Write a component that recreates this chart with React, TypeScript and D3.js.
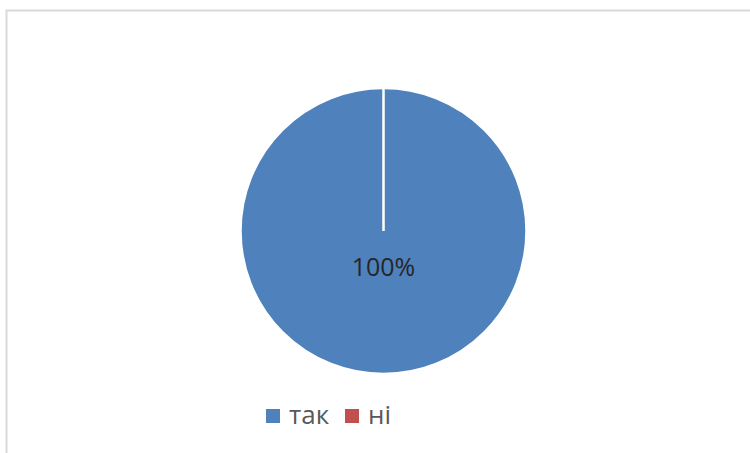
import React, { useRef, useEffect } from 'react';
import * as d3 from 'd3';

const categories = ['так', 'ні'];
const values = [100, 0];
const colors = ['#4F81BD', '#C0504D'];

export default function App() {
  const svgWidth = 750;
  const svgHeight = 453;
  const ref = useRef<SVGSVGElement>(null);

  useEffect(() => {
    if (!ref.current) return;
    const svg = d3.select(ref.current);
    svg.selectAll('*').remove();

    // chart area frame (only top and left edges show in the crop)
    svg.append('rect')
      .attr('x', 6.5)
      .attr('y', 10.5)
      .attr('width', 900)
      .attr('height', 600)
      .attr('fill', '#fff')
      .attr('stroke', '#d9d9d9')
      .attr('stroke-width', 2);

    const cx = 383.5;
    const cy = 231;
    const radius = 143;

    const pie = d3.pie<number>().sort(null).value((d) => d);
    const arc = d3.arc<d3.PieArcDatum<number>>().innerRadius(0).outerRadius(radius);
    const arcs = pie(values);

    const g = svg.append('g').attr('transform', `translate(${cx},${cy})`);
    g.selectAll('path')
      .data(arcs)
      .enter()
      .append('path')
      .attr('d', arc)
      .attr('fill', (d, i) => colors[i])
      .attr('stroke', '#fff')
      .attr('stroke-width', 2.5)
      .attr('stroke-linejoin', 'miter');

    const total = d3.sum(values);
    g.selectAll('text.lbl')
      .data(arcs.filter((d) => d.value > 0))
      .enter()
      .append('text')
      .attr('class', 'lbl')
      .attr('x', (d) => (d.endAngle - d.startAngle >= 2 * Math.PI - 1e-6 ? 0 : arc.centroid(d)[0]))
      .attr('y', (d) => (d.endAngle - d.startAngle >= 2 * Math.PI - 1e-6 ? 45 : arc.centroid(d)[1]))
      .attr('text-anchor', 'middle')
      .style('font-family', '"Open Sans", sans-serif')
      .style('font-size', '25px')
      .style('fill', '#262626')
      .text((d) => d3.format('.0%')(d.value / total));

    // legend
    const xs = [266, 345];
    const legend = svg.append('g');
    categories.forEach((c, i) => {
      legend.append('rect')
        .attr('x', xs[i])
        .attr('y', 409)
        .attr('width', 14)
        .attr('height', 14)
        .attr('fill', colors[i]);
      legend.append('text')
        .attr('x', xs[i] + 23)
        .attr('y', 424)
        .style('font-family', '"Open Sans", sans-serif')
        .style('font-size', '26px')
        .style('fill', '#595959')
        .text(c);
    });
  }, []);

  return (
    <svg
      ref={ref}
      width={svgWidth}
      height={svgHeight}
      style={{ position: 'absolute', left: 0, top: 0, background: '#fff' }}
    />
  );
}
